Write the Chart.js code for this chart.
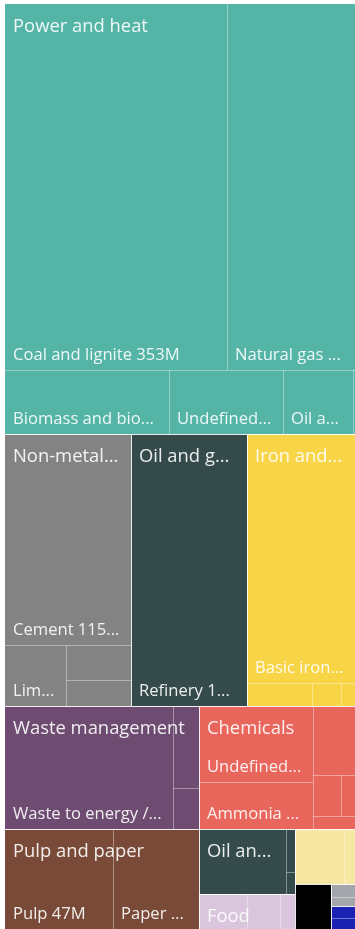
<!DOCTYPE html>
<html>
<head>
<meta charset="utf-8">
<script src="https://cdn.jsdelivr.net/npm/chart.js@4.4.1/dist/chart.umd.min.js"></script>
<style>
  html, body { margin: 0; padding: 0; background: #ffffff; }
  #wrap { position: relative; width: 355px; height: 929px; }
</style>
</head>
<body>
<div id="wrap"><canvas id="treemap"></canvas></div>
<script>
// emissions by sector and sub-sector, in millions
const sectors = [
  'Power and heat',
  'Non-metallic minerals',
  'Oil and gas refining',
  'Iron and steel',
  'Waste management',
  'Pulp and paper',
  'Chemicals',
  'Oil and gas production',
  'Food',
  'Textiles',
  'Aluminium',
  'Other industry',
  'Machinery',
];
const subsectors = [
  ['Coal and lignite', 'Natural gas', 'Biomass and biofuels', 'Undefined', 'Oil and oil products', 'Other fuels'],
  ['Cement', 'Lime', 'Glass', 'Ceramics'],
  ['Refinery'],
  ['Basic iron and steel', 'Coke ovens', 'Sinter', 'Ferroalloys'],
  ['Waste to energy / incineration', 'Landfill', 'Wastewater'],
  ['Pulp', 'Paper and board'],
  ['Undefined', 'Ammonia production', 'Petrochemicals', 'Nitric acid', 'Soda ash', 'Carbon black'],
  ['Upstream', 'Gas processing', 'Flaring'],
  ['Dairy', 'Sugar', 'Starch'],
  ['Finishing', 'Spinning'],
  ['Primary aluminium'],
  ['Other manufacturing', 'Other'],
  ['Engines', 'Tools'],
];
const emissions = [
  [353, 203.5, 45.5, 31.6, 19.5, 0.5],
  [115.2, 16.0, 10.0, 7.3],
  [136.7],
  [116.5, 6.5, 2.9, 1.4],
  [89.6, 9.2, 4.6],
  [47, 37.1],
  [37.9, 23.4, 12.4, 4.9, 2.5, 2.4],
  [24.5, 1.6, 0.8],
  [7.4, 5.0, 2.2],
  [11.8, 2.5],
  [7.2],
  [1.3, 1.0],
  [1.2, 1.1],
];

const sectorColors = [
  '#54b4a6', '#838383', '#354b4b', '#f8d447', '#6e4b70', '#7a4a38', '#e9665d',
  '#354b4b', '#d9c6dc', '#f6e8a2', '#000000', '#a3a7ab', '#1a22b4',
];

const layoutWidth = 350;
const layoutHeight = 925;
const PHI = (1 + Math.sqrt(5)) / 2;

// squarified layout, same row rule as d3.treemapSquarify (golden ratio)
function squarify(items, x0, y0, x1, y1) {
  const out = [];
  const n = items.length;
  let value = items.reduce((s, d) => s + d.value, 0);
  let i0 = 0, i1 = 0;
  while (i0 < n) {
    const dx = x1 - x0, dy = y1 - y0;
    let sum = items[i1++].value;
    let minV = sum, maxV = sum;
    const alpha = Math.max(dy / dx, dx / dy) / (value * PHI);
    let beta = sum * sum * alpha;
    let minRatio = Math.max(maxV / beta, beta / minV);
    for (; i1 < n; ++i1) {
      const v = items[i1].value;
      sum += v;
      if (v < minV) minV = v;
      if (v > maxV) maxV = v;
      beta = sum * sum * alpha;
      const r = Math.max(maxV / beta, beta / minV);
      if (r > minRatio) { sum -= v; break; }
      minRatio = r;
    }
    const row = items.slice(i0, i1);
    if (dx < dy) {
      const yb = i1 < n ? y0 + dy * sum / value : y1;
      let x = x0;
      row.forEach((d, k) => {
        const xe = k === row.length - 1 ? x1 : x + (x1 - x0) * d.value / sum;
        out.push({ item: d, x0: x, y0: y0, x1: xe, y1: yb });
        x = xe;
      });
      y0 = yb;
    } else {
      const xb = i1 < n ? x0 + dx * sum / value : x1;
      let y = y0;
      row.forEach((d, k) => {
        const ye = k === row.length - 1 ? y1 : y + (y1 - y0) * d.value / sum;
        out.push({ item: d, x0: x0, y0: y, x1: xb, y1: ye });
        y = ye;
      });
      x0 = xb;
    }
    value -= sum;
    i0 = i1;
  }
  return out;
}

function buildCells() {
  const groups = sectors.map((name, i) => {
    const leaves = subsectors[i]
      .map((s, j) => ({ name: s, value: emissions[i][j] }))
      .sort((a, b) => b.value - a.value);
    return { name, color: sectorColors[i], leaves, value: leaves.reduce((s, l) => s + l.value, 0) };
  });
  groups.sort((a, b) => b.value - a.value);
  const top = squarify(groups, 0, 0, layoutWidth, layoutHeight);
  top.forEach(g => { g.cells = squarify(g.item.leaves, g.x0, g.y0, g.x1, g.y1); });
  return top;
}

const cells = buildCells();
const fmt = v => Math.round(v) + 'M';
const fontFamily = '"Segoe UI", "Open Sans", sans-serif';

// cut a label down to what fits, keeping at least three characters
function fitText(ctx, text, maxW) {
  if (ctx.measureText(text).width <= maxW) return text;
  for (let k = text.length - 1; k >= 3; k--) {
    const s = text.slice(0, k) + '...';
    if (ctx.measureText(s).width <= maxW) return s;
  }
  return null;
}

const treemapPlugin = {
  id: 'treemapCells',
  afterDatasetsDraw(chart) {
    const { ctx, chartArea, scales: { x, y } } = chart;
    const box = r => {
      const l = Math.round(x.getPixelForValue(r.x0));
      const rr = Math.round(x.getPixelForValue(r.x1));
      const t = Math.round(y.getPixelForValue(r.y0));
      const b = Math.round(y.getPixelForValue(r.y1));
      return { l, r: rr, t, b, w: rr - l, h: b - t };
    };
    ctx.save();
    ctx.beginPath();
    ctx.rect(chartArea.left, chartArea.top, chartArea.width, chartArea.height);
    ctx.clip();

    // fills
    cells.forEach(g => {
      ctx.fillStyle = g.item.color;
      g.cells.forEach(c => {
        const p = box(c);
        ctx.fillRect(p.l, p.t, p.w, p.h);
      });
    });

    // separators: thin ones between leaves, brighter ones between sectors
    const edges = (p, stroke) => {
      ctx.strokeStyle = stroke;
      ctx.lineWidth = 1;
      ctx.beginPath();
      if (p.l > chartArea.left + 1) { ctx.moveTo(p.l + 0.5, p.t); ctx.lineTo(p.l + 0.5, p.b); }
      if (p.t > chartArea.top + 1) { ctx.moveTo(p.l, p.t + 0.5); ctx.lineTo(p.r, p.t + 0.5); }
      ctx.stroke();
    };
    cells.forEach(g => g.cells.forEach(c => edges(box(c), 'rgba(255,255,255,0.38)')));
    cells.forEach(g => edges(box(g), 'rgba(255,255,255,0.85)'));

    ctx.fillStyle = 'rgba(255,255,255,0.9)';
    ctx.textBaseline = 'alphabetic';
    ctx.textAlign = 'left';

    // leaf labels, bottom left
    ctx.font = '16.6px ' + fontFamily;
    cells.forEach(g => {
      const gp = box(g);
      g.cells.forEach(c => {
        const p = box(c);
        const minH = p.t === gp.t ? 70 : 40;
        if (p.w < 45 || p.h < minH) return;
        const s = fitText(ctx, c.item.name + ' ' + fmt(c.item.value), p.w - 18.5);
        if (s) ctx.fillText(s, p.l + 8, p.b - 10);
      });
    });

    // sector labels, top left
    ctx.font = '18.4px ' + fontFamily;
    cells.forEach(g => {
      const p = box(g);
      if (p.w < 50 || p.h < 30) return;
      const s = fitText(ctx, g.item.name, p.w - 20.5);
      if (s) ctx.fillText(s, p.l + 8, p.t + 28);
    });
    ctx.restore();
  }
};

new Chart(document.getElementById('treemap'), {
  type: 'scatter',
  data: { datasets: [{ data: [], pointRadius: 0 }] },
  options: {
    responsive: true,
    maintainAspectRatio: false,
    animation: false,
    layout: { padding: { left: 5, top: 4, right: 0, bottom: 0 } },
    scales: {
      x: { type: 'linear', min: 0, max: layoutWidth, display: false },
      y: { type: 'linear', min: 0, max: layoutHeight, reverse: true, display: false },
    },
    plugins: { legend: { display: false }, tooltip: { enabled: false } },
  },
  plugins: [treemapPlugin],
});
</script>
</body>
</html>
